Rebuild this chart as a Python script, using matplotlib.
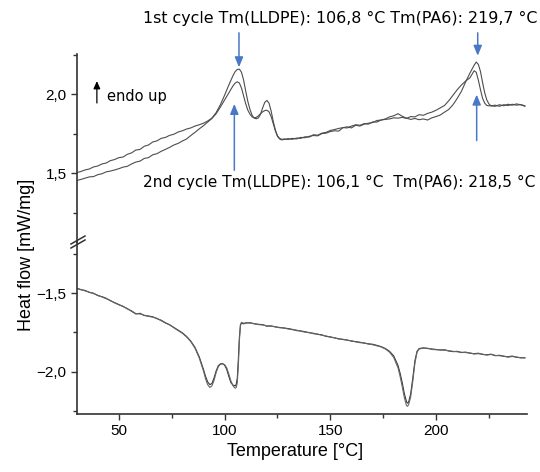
import matplotlib
matplotlib.use("Agg")
import matplotlib.pyplot as plt
from matplotlib.lines import Line2D
from matplotlib.ticker import FixedLocator

# ---------------- data ----------------
# 1st heating (upper panel)
heat1_T = [30, 32, 34, 36, 38, 40, 42, 44, 46, 48, 50, 52, 54, 56, 58, 60, 62, 64, 66, 68,
           70, 72, 74, 76, 78, 80, 82, 84, 86, 88, 90, 92, 94, 96, 98, 100, 102, 104, 105, 106,
           107, 108, 109, 110, 111, 112, 113, 114, 115, 116, 117, 118, 119, 120, 121, 122, 123, 124, 125, 126,
           127, 128, 130, 132, 134, 136, 138, 140, 142, 144, 146, 148, 150, 152, 154, 156, 158, 160, 162, 164,
           166, 168, 170, 172, 174, 176, 178, 180, 182, 184, 186, 188, 190, 192, 194, 196, 198, 200, 202, 204,
           206, 208, 210, 212, 214, 216, 218, 219, 220, 221, 222, 223, 224, 225, 226, 228, 230, 232, 234, 236,
           238, 240, 242]
heat1_HF = [1.505, 1.512, 1.522, 1.528, 1.541, 1.547, 1.560, 1.566, 1.581, 1.588, 1.600, 1.604, 1.621, 1.630, 1.648, 1.652, 1.672, 1.680, 1.699, 1.706,
            1.722, 1.728, 1.741, 1.748, 1.762, 1.770, 1.781, 1.788, 1.800, 1.808, 1.818, 1.832, 1.850, 1.885, 1.935, 1.995, 2.060, 2.120, 2.145, 2.158,
            2.160, 2.140, 2.090, 2.020, 1.955, 1.905, 1.868, 1.850, 1.846, 1.852, 1.875, 1.915, 1.950, 1.962, 1.945, 1.895, 1.830, 1.775, 1.738, 1.722,
            1.716, 1.718, 1.715, 1.722, 1.718, 1.728, 1.726, 1.735, 1.740, 1.738, 1.752, 1.755, 1.765, 1.770, 1.768, 1.790, 1.795, 1.788, 1.805, 1.800,
            1.812, 1.818, 1.822, 1.835, 1.838, 1.845, 1.858, 1.865, 1.878, 1.862, 1.850, 1.842, 1.848, 1.840, 1.845, 1.838, 1.852, 1.860, 1.870, 1.888,
            1.905, 1.935, 1.975, 2.020, 2.080, 2.135, 2.185, 2.205, 2.190, 2.145, 2.075, 2.010, 1.965, 1.940, 1.928, 1.925, 1.935, 1.928, 1.938, 1.932,
            1.940, 1.935, 1.925]

# 2nd heating (upper panel)
heat2_T = heat1_T
heat2_HF = [1.455, 1.462, 1.470, 1.478, 1.480, 1.492, 1.498, 1.510, 1.515, 1.522, 1.530, 1.540, 1.545, 1.560, 1.572, 1.578, 1.595, 1.600, 1.618, 1.625,
            1.640, 1.652, 1.665, 1.680, 1.690, 1.705, 1.718, 1.740, 1.760, 1.782, 1.802, 1.825, 1.848, 1.878, 1.920, 1.965, 2.010, 2.055, 2.072, 2.080,
            2.072, 2.040, 1.990, 1.940, 1.900, 1.875, 1.858, 1.852, 1.855, 1.865, 1.878, 1.890, 1.898, 1.900, 1.890, 1.860, 1.815, 1.770, 1.735, 1.718,
            1.712, 1.715, 1.720, 1.716, 1.724, 1.722, 1.732, 1.730, 1.745, 1.742, 1.755, 1.760, 1.772, 1.778, 1.785, 1.790, 1.788, 1.800, 1.808, 1.805,
            1.815, 1.812, 1.826, 1.825, 1.838, 1.842, 1.845, 1.852, 1.850, 1.855, 1.848, 1.860, 1.858, 1.872, 1.868, 1.880, 1.888, 1.900, 1.915, 1.930,
            1.960, 1.995, 2.030, 2.060, 2.085, 2.105, 2.150, 2.140, 2.090, 2.030, 1.975, 1.945, 1.930, 1.928, 1.928, 1.932, 1.925, 1.935, 1.930, 1.938,
            1.932, 1.936, 1.928]

# cooling curves (lower panel)
cool1_T = [30, 32, 34, 36, 38, 40, 42, 44, 46, 48, 50, 52, 54, 56, 58, 60, 62, 64, 66, 68,
           70, 72, 74, 76, 78, 80, 82, 84, 86, 88, 90, 91, 92, 93, 94, 95, 96, 97, 98, 99,
           100, 101, 102, 103, 104, 105, 105.5, 106, 106.5, 107, 107.5, 108, 109, 110, 112, 114, 116, 118, 120, 122,
           124, 126, 128, 130, 132, 134, 136, 138, 140, 142, 144, 146, 148, 150, 152, 154, 156, 158, 160, 162,
           164, 166, 168, 170, 172, 174, 176, 178, 180, 182, 183, 184, 185, 186, 186.5, 187, 188, 189, 190, 191,
           192, 194, 196, 198, 200, 202, 204, 206, 208, 210, 212, 214, 216, 218, 220, 222, 224, 226, 228, 230,
           232, 234, 236, 238, 240, 242]
cool1_HF = [-1.468, -1.478, -1.482, -1.495, -1.500, -1.515, -1.522, -1.532, -1.548, -1.560, -1.572, -1.585, -1.598, -1.615, -1.632, -1.628, -1.642, -1.645, -1.650, -1.662,
            -1.672, -1.688, -1.702, -1.718, -1.735, -1.752, -1.775, -1.805, -1.845, -1.905, -1.985, -2.030, -2.065, -2.082, -2.075, -2.040, -1.995, -1.962, -1.950, -1.948,
            -1.958, -1.985, -2.030, -2.070, -2.085, -2.090, -2.080, -2.040, -1.920, -1.780, -1.700, -1.690, -1.695, -1.690, -1.688, -1.695, -1.698, -1.700, -1.710, -1.708,
            -1.715, -1.718, -1.722, -1.725, -1.730, -1.738, -1.740, -1.745, -1.752, -1.755, -1.762, -1.765, -1.775, -1.778, -1.785, -1.790, -1.795, -1.798, -1.805, -1.808,
            -1.812, -1.818, -1.822, -1.825, -1.832, -1.840, -1.852, -1.870, -1.900, -1.960, -2.010, -2.070, -2.140, -2.190, -2.200, -2.195, -2.140, -2.040, -1.930, -1.870,
            -1.852, -1.848, -1.852, -1.855, -1.858, -1.862, -1.860, -1.868, -1.872, -1.870, -1.878, -1.875, -1.882, -1.885, -1.882, -1.890, -1.892, -1.888, -1.898, -1.895,
            -1.902, -1.905, -1.900, -1.908, -1.910, -1.912]

cool2_T = cool1_T
cool2_HF = [-1.470, -1.476, -1.485, -1.493, -1.502, -1.513, -1.524, -1.535, -1.546, -1.562, -1.574, -1.583, -1.600, -1.612, -1.630, -1.632, -1.640, -1.648, -1.652, -1.660,
            -1.675, -1.690, -1.700, -1.720, -1.738, -1.755, -1.778, -1.808, -1.850, -1.912, -1.995, -2.045, -2.082, -2.100, -2.090, -2.055, -2.005, -1.968, -1.952, -1.950,
            -1.955, -1.975, -2.015, -2.060, -2.090, -2.105, -2.100, -2.070, -1.960, -1.800, -1.705, -1.685, -1.692, -1.688, -1.690, -1.693, -1.700, -1.702, -1.708, -1.710,
            -1.713, -1.720, -1.720, -1.728, -1.732, -1.735, -1.742, -1.748, -1.750, -1.758, -1.760, -1.768, -1.772, -1.780, -1.783, -1.792, -1.793, -1.800, -1.803, -1.810,
            -1.815, -1.816, -1.824, -1.828, -1.835, -1.842, -1.855, -1.875, -1.910, -1.975, -2.030, -2.095, -2.165, -2.215, -2.220, -2.210, -2.160, -2.060, -1.945, -1.875,
            -1.855, -1.850, -1.850, -1.858, -1.860, -1.860, -1.863, -1.866, -1.870, -1.873, -1.876, -1.878, -1.880, -1.887, -1.885, -1.888, -1.894, -1.890, -1.896, -1.898,
            -1.900, -1.907, -1.903, -1.906, -1.912, -1.910]

x_ticks = [50, 100, 150, 200]
x_ticklabels = ["50", "100", "150", "200"]
x_minor = [75, 125, 175, 225]
upper_ticks = [1.5, 2.0]
upper_ticklabels = ["1,5", "2,0"]
upper_minor = [1.25, 1.75, 2.25]
lower_ticks = [-2.0, -1.5]
lower_ticklabels = ["\u22122,0", "\u22121,5"]
lower_minor = [-2.25, -1.75, -1.25]

# annotation values
tm1_lldpe, tm1_pa6 = 106.8, 219.7
tm2_lldpe, tm2_pa6 = 106.1, 218.5
top_text = "1st cycle Tm(LLDPE): 106,8 \u00b0C Tm(PA6): 219,7 \u00b0C"
bot_text = "2nd cycle Tm(LLDPE): 106,1 \u00b0C  Tm(PA6): 218,5 \u00b0C"

# ---------------- figure ----------------
W, H = 540, 472
fig = plt.figure(figsize=(W / 100, H / 100), dpi=100)

def fx(px):
    return px / W

def fy(py):
    return 1 - py / H

left, right = 77, 527
top, brk, bottom = 54, 242, 414
ax_u = fig.add_axes([fx(left), fy(brk), fx(right - left), (brk - top) / H])
ax_l = fig.add_axes([fx(left), fy(bottom), fx(right - left), (bottom - brk) / H], sharex=ax_u)

spine_c = "#333333"
line_c_u = "#4d4d4d"
line_c_l = "#333333"
lw = 0.8

ax_u.plot(heat1_T, heat1_HF, color=line_c_u, lw=lw)
ax_u.plot(heat2_T, heat2_HF, color=line_c_u, lw=lw)
ax_l.plot(cool1_T, cool1_HF, color=line_c_l, lw=lw)
ax_l.plot(cool2_T, cool2_HF, color="#666666", lw=lw)

ax_u.set_xlim(30.2, 243)
ax_u.set_ylim(1.066, 2.256)
ax_l.set_ylim(-2.269, -1.174)

tick_font = dict(family="Liberation Sans", size=11)
for ax in (ax_u, ax_l):
    ax.spines["top"].set_visible(False)
    ax.spines["right"].set_visible(False)
    ax.spines["left"].set_color(spine_c)
    ax.spines["left"].set_linewidth(1.2)
    ax.set_facecolor("none")
ax_u.spines["bottom"].set_visible(False)
ax_l.spines["bottom"].set_color(spine_c)
ax_l.spines["bottom"].set_linewidth(1.2)

ax_u.tick_params(axis="x", which="both", bottom=False, labelbottom=False)
ax_u.set_yticks(upper_ticks)
ax_u.set_yticklabels(upper_ticklabels, fontdict=tick_font)
ax_u.yaxis.set_minor_locator(FixedLocator(upper_minor))
ax_l.set_yticks(lower_ticks)
ax_l.set_yticklabels(lower_ticklabels, fontdict=tick_font)
ax_l.yaxis.set_minor_locator(FixedLocator(lower_minor))
ax_l.set_xticks(x_ticks)
ax_l.set_xticklabels(x_ticklabels, fontdict=tick_font)
ax_l.xaxis.set_minor_locator(FixedLocator(x_minor))
for ax in (ax_u, ax_l):
    ax.tick_params(which="major", direction="out", length=4.5, width=1.0, color=spine_c, pad=3)
    ax.tick_params(which="minor", direction="out", length=3, width=1.0, color=spine_c)

# axis labels
fig.text(fx(295), fy(452), "Temperature [\u00b0C]", ha="center", va="center",
         family="Liberation Sans", size=13)
fig.text(fx(27), fy(255), "Heat flow [mW/mg]", ha="center", va="center",
         rotation=90, family="Liberation Sans", size=13)

# break marks on the y axis
for dy in (0, -4):
    fig.add_artist(Line2D([fx(71), fx(85)], [fy(248 + dy), fy(240 + dy)],
                          color=spine_c, lw=1.1, transform=fig.transFigure))

# annotations
fig.text(fx(143), fy(18), top_text, ha="left", va="center", family="DejaVu Sans", size=11.4)
fig.text(fx(143), fy(182), bot_text, ha="left", va="center", family="DejaVu Sans", size=11.1)
fig.text(fx(107), fy(96), "endo up", ha="left", va="center", family="DejaVu Sans", size=10.5)

blue = "#4a78c8"
aprops = dict(arrowstyle="-|>,head_length=0.6,head_width=0.25", color=blue, lw=1.1,
              shrinkA=0, shrinkB=0)
# arrows (x in data coordinates, y in data coordinates of upper panel)
ax_u.annotate("", xy=(tm1_lldpe, 2.172), xytext=(tm1_lldpe, 2.39),
              arrowprops=aprops, annotation_clip=False)
ax_u.annotate("", xy=(tm1_pa6, 2.245), xytext=(tm1_pa6, 2.39),
              arrowprops=aprops, annotation_clip=False)
ax_u.annotate("", xy=(104.6, 1.94), xytext=(104.6, 1.52),
              arrowprops=aprops, annotation_clip=False)
ax_u.annotate("", xy=(tm2_pa6 + 0.7, 1.999), xytext=(tm2_pa6 + 0.7, 1.708),
              arrowprops=aprops, annotation_clip=False)
# endo up arrow
ax_u.annotate("", xy=(39.6, 2.085), xytext=(39.6, 1.946),
              arrowprops=dict(arrowstyle="-|>,head_length=0.45,head_width=0.2",
                              color="black", lw=0.9, shrinkA=0, shrinkB=0),
              annotation_clip=False)

fig.savefig("out.png", dpi=100, facecolor="white")
